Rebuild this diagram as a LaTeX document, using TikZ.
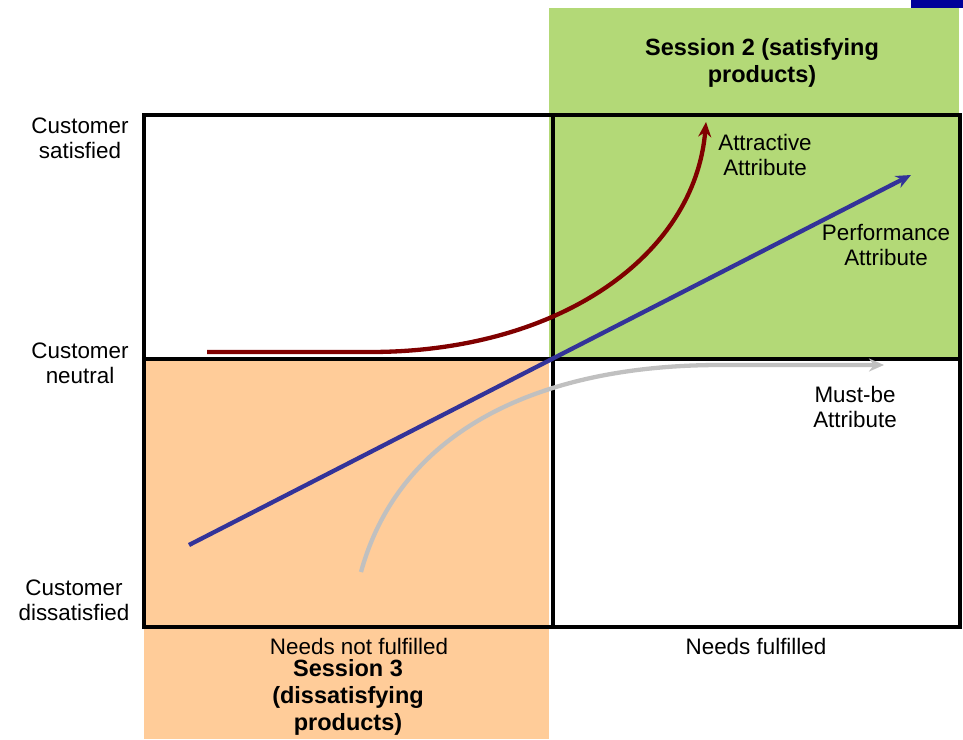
\documentclass[tikz,border=0pt]{standalone}
\usepackage{fontspec}
\setmainfont{Liberation Sans}
\usetikzlibrary{arrows.meta}
\definecolor{satgreen}{RGB}{179,217,119}
\definecolor{dissorange}{RGB}{255,204,153}
\definecolor{perfblue}{RGB}{51,51,153}
\definecolor{attrred}{RGB}{128,0,0}
\definecolor{mustgray}{RGB}{192,192,192}
\definecolor{cornerblue}{RGB}{0,0,153}
\begin{document}
\begin{tikzpicture}[x=1pt,y=-1pt,
  lbl/.style={font=\fontsize{22.4}{25}\selectfont,align=center,inner sep=0pt},
  hdr/.style={font=\fontsize{23.5}{27}\selectfont\bfseries,align=center,inner sep=0pt},
  grid/.style={line width=4.5pt,line cap=rect},
  curve/.style={line width=4.3pt},
  tip/.style={-{Stealth[length=15pt,width=13pt]}}]
\useasboundingbox (0,0) rectangle (963,739);
% session areas
\fill[satgreen] (549,8) rectangle (959,360);
\fill[dissorange] (144,359) rectangle (549,739);
\fill[cornerblue] (911,0) rectangle (963,8);
% quadrant grid
\draw[grid] (144,115) rectangle (960,627);
\draw[grid] (553,115) -- (553,627);
\draw[grid] (144,359) -- (960,359);
% curve anchor points
\coordinate (r0) at (207,352);
\coordinate (r1) at (370,352);
\coordinate (r2) at (706,122);
\coordinate (b0) at (189,545);
\coordinate (b1) at (911,175);
\coordinate (g0) at (361,572);
\coordinate (g1) at (720,365);
\coordinate (g2) at (884,365);
% attribute curves
\draw[curve,attrred,tip] (r0) -- (r1) .. controls (560,352) and (695,255) .. (r2);
\draw[curve,perfblue,tip] (b0) -- (b1);
\draw[curve,mustgray,tip] (g0) .. controls (400,430) and (540,365) .. (g1) -- (g2);
% axis labels
\node[lbl] (ysat) at (80,138) {Customer\\satisfied};
\node[lbl] (yneu) at (80,363) {Customer\\neutral};
\node[lbl] (ydis) at (74,600) {Customer\\dissatisfied};
\node[lbl] (xnot) at (359,646) {Needs not fulfilled};
\node[lbl] (xful) at (756,646) {Needs fulfilled};
% session titles
\node[hdr] (s2) at (762,63) {Session 2 (satisfying\\products)};
\node[hdr] (s3) at (348,697) {Session 3\\(dissatisfying\\products)};
% curve labels
\node[lbl] (la) at (765,155) {Attractive\\Attribute};
\node[lbl] (lp) at (886,245) {Performance\\Attribute};
\node[lbl] (lm) at (855,407) {Must-be\\Attribute};
\end{tikzpicture}
\end{document}
